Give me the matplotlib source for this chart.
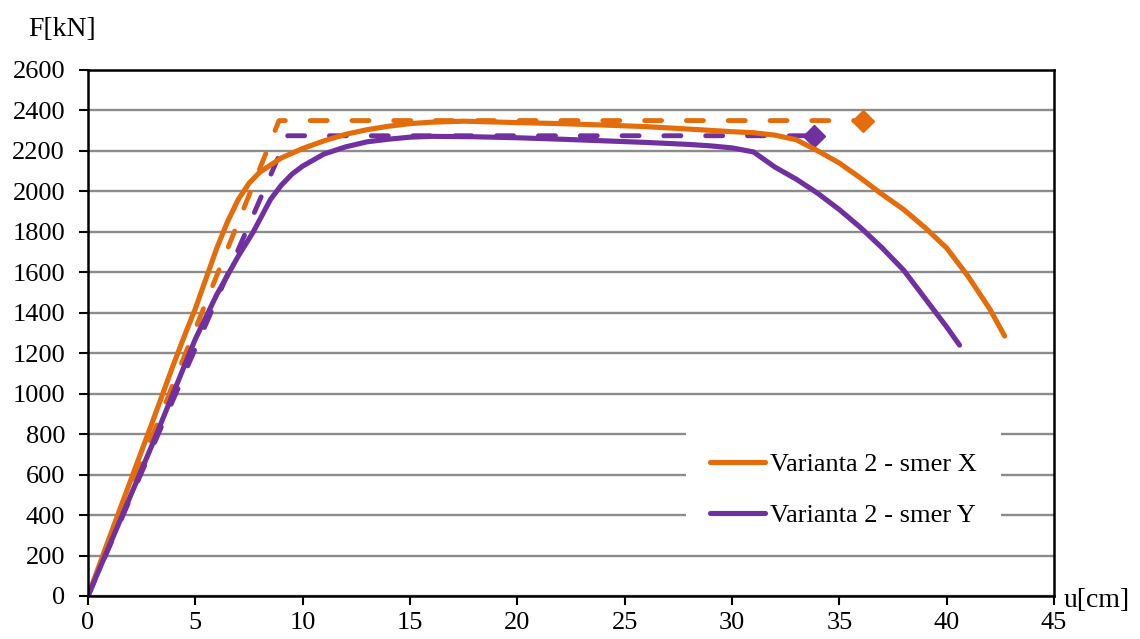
import matplotlib.pyplot as plt

# Data
u_x = [0, 1, 2, 3, 4, 4.6, 5, 6, 6.5, 7, 7.5, 8, 9, 10, 11, 12, 13, 14, 15, 16, 17.5,
       20, 22, 24, 26, 28, 30, 31, 32, 33, 34, 35, 36, 37, 38, 39, 40, 41, 42, 42.7]
F_x = [0, 290, 575, 860, 1150, 1315, 1420, 1720, 1850, 1960, 2040, 2095, 2165, 2212, 2250,
       2282, 2305, 2322, 2335, 2342, 2347, 2340, 2335, 2328, 2320, 2308, 2295, 2290, 2278,
       2255, 2200, 2140, 2065, 1985, 1910, 1820, 1720, 1580, 1420, 1285]

u_y = [0, 1, 2, 3, 4, 5, 6, 7, 7.7, 8.5, 9, 9.5, 10, 11, 12, 13, 14, 15, 16, 18, 20, 22,
       24, 26, 28, 29, 30, 31, 32, 33, 34, 35, 36, 37, 38, 39, 40, 40.6]
F_y = [0, 250, 500, 750, 1010, 1270, 1490, 1680, 1800, 1960, 2030, 2085, 2125, 2185, 2220,
       2245, 2258, 2268, 2272, 2270, 2265, 2258, 2250, 2242, 2232, 2225, 2215, 2195, 2120,
       2060, 1990, 1910, 1820, 1720, 1610, 1470, 1330, 1240]

# bilinear idealisations
u_bx = [0, 8.9, 36.1]
F_bx = [0, 2350, 2350]
u_by = [0, 9.3, 33.8]
F_by = [0, 2275, 2275]

labels = ["Varianta 2 - smer X", "Varianta 2 - smer Y"]
c_x = "#E46C0A"
c_y = "#7030A0"

plt.rcParams['font.family'] = ['Liberation Serif', 'DejaVu Serif']
plt.rcParams['font.size'] = 19

fig = plt.figure(figsize=(11.4, 6.39), dpi=100)
ax = fig.add_axes([88 / 1140, 43 / 639, (1054 - 88) / 1140, (596 - 70) / 639])

ax.plot(u_bx, F_bx, color=c_x, lw=3.5, dashes=(3.5, 5.1), dash_capstyle='round',
        marker='D', markersize=11, markevery=[2])
ax.plot(u_by, F_by, color=c_y, lw=3.5, dashes=(3.5, 5.1), dash_capstyle='round',
        marker='D', markersize=11, markevery=[2])
lx, = ax.plot(u_x, F_x, color=c_x, lw=3.7, solid_capstyle='round', label=labels[0])
ly, = ax.plot(u_y, F_y, color=c_y, lw=3.7, solid_capstyle='round', label=labels[1])

ax.set_xlim(0, 45)
ax.set_ylim(0, 2600)
ax.set_xticks(range(0, 46, 5))
ax.set_yticks(range(0, 2601, 200))
ax.grid(axis='y', color='#8c8c8c', lw=1.7)
ax.set_axisbelow(True)
for s in ax.spines.values():
    s.set_linewidth(1.8)
    s.set_color('black')
ax.tick_params(direction='out', length=6.5, width=1.5)
ax.tick_params(axis='y', pad=10)
ax.tick_params(axis='x', pad=5)

ax.text(-0.062, 1.053, "F[kN]", transform=ax.transAxes, ha='left', va='bottom',
        fontsize=20)
ax.text(1.01, -0.008, "u[cm]", transform=ax.transAxes, ha='left', va='center',
        fontsize=20)

leg = ax.legend(handles=[lx, ly], loc='lower left', bbox_to_anchor=(0.619, 0.086),
                frameon=True, fancybox=False, edgecolor='none', facecolor='white',
                framealpha=1, handlelength=2.1, handletextpad=0.2, labelspacing=1.05,
                borderpad=0.9, borderaxespad=0)

fig.savefig("out.png", dpi=100)
